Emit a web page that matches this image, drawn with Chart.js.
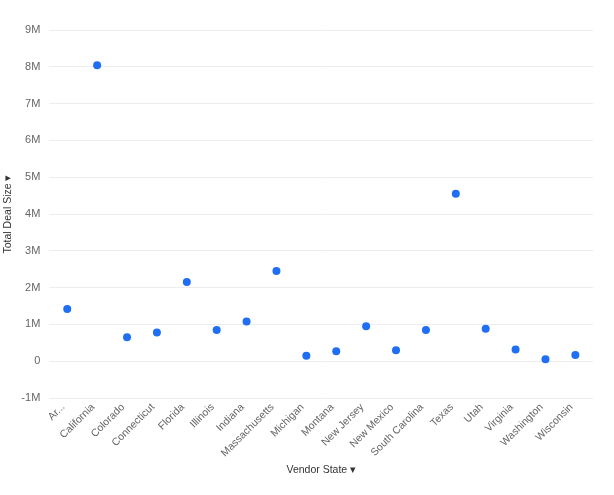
<!DOCTYPE html>
<html lang="en">

<head>
    <meta charset="UTF-8" />
    <title>Total Deal Size by Vendor State</title>
    <script src="https://cdn.jsdelivr.net/npm/chart.js"></script>
    <style>
        html, body { margin: 0; padding: 0; background: #fff; }
        #wrap { width: 614px; height: 495px; }
    </style>
</head>

<body>
    <div id="wrap"><canvas id="grafico"></canvas></div>

    <script>
        const estados = ["Ar...", "California", "Colorado", "Connecticut", "Florida", "Illinois", "Indiana",
            "Massachusetts", "Michigan", "Montana", "New Jersey", "New Mexico", "South Carolina", "Texas",
            "Utah", "Virginia", "Washington", "Wisconsin"];
        const totalDealSize = [1420000, 8040000, 650000, 780000, 2150000, 850000, 1080000,
            2450000, 150000, 270000, 950000, 300000, 850000, 4550000,
            880000, 320000, 50000, 170000];
        const ticksY = [-1000000, 0, 1000000, 2000000, 3000000, 4000000, 5000000, 6000000, 7000000, 8000000, 9000000];

        const fuente = "'Liberation Sans', Arial, sans-serif";

        // cada estado se coloca en su índice dentro de un eje lineal
        const puntos = totalDealSize.map((v, i) => ({ x: i, y: v }));

        const ctx = document.getElementById('grafico').getContext('2d');
        new Chart(ctx, {
            type: 'scatter',
            data: {
                datasets: [{
                    label: 'Total Deal Size',
                    data: puntos,
                    pointRadius: 4,
                    pointHoverRadius: 5,
                    pointBackgroundColor: '#1f6ef4',
                    pointBorderColor: '#1f6ef4',
                    pointBorderWidth: 0
                }]
            },
            options: {
                responsive: true,
                maintainAspectRatio: false,
                animation: false,
                layout: { padding: { top: 30, right: 20.7, bottom: 0, left: 1 } },
                plugins: {
                    legend: { display: false },
                    tooltip: {
                        callbacks: { label: (c) => estados[c.parsed.x] + ': ' + c.parsed.y.toLocaleString('en-US') }
                    }
                },
                scales: {
                    x: {
                        type: 'linear',
                        min: -0.6,
                        max: estados.length - 0.4,
                        afterBuildTicks: (eje) => { eje.ticks = estados.map((_, i) => ({ value: i })); },
                        afterFit: (eje) => { eje.height = 97; },
                        grid: { display: false, drawTicks: false },
                        border: { display: false },
                        ticks: {
                            color: '#666',
                            font: { family: fuente, size: 10.5 },
                            maxRotation: 45,
                            minRotation: 45,
                            autoSkip: false,
                            padding: 3,
                            labelOffset: -4,
                            callback: (v) => estados[v]
                        },
                        title: {
                            display: true,
                            text: 'Vendor State ▾',
                            color: '#333',
                            font: { family: fuente, size: 10.5 },
                            padding: { top: 0, bottom: 18.7 }
                        }
                    },
                    y: {
                        min: -1000000,
                        max: 9000000,
                        afterBuildTicks: (eje) => { eje.ticks = ticksY.map(v => ({ value: v })); },
                        afterFit: (eje) => { eje.width = 48.3; },
                        grid: { color: '#ededed', drawTicks: false, lineWidth: 1 },
                        border: { display: false },
                        ticks: {
                            color: '#666',
                            font: { family: fuente, size: 11 },
                            padding: 9,
                            callback: (v) => v === 0 ? '0' : (v / 1000000) + 'M'
                        },
                        title: {
                            display: true,
                            text: 'Total Deal Size ▾',
                            color: '#333',
                            font: { family: fuente, size: 10.5 },
                            padding: { top: 1, bottom: 2 }
                        }
                    }
                }
            }
        });
    </script>
</body>

</html>
